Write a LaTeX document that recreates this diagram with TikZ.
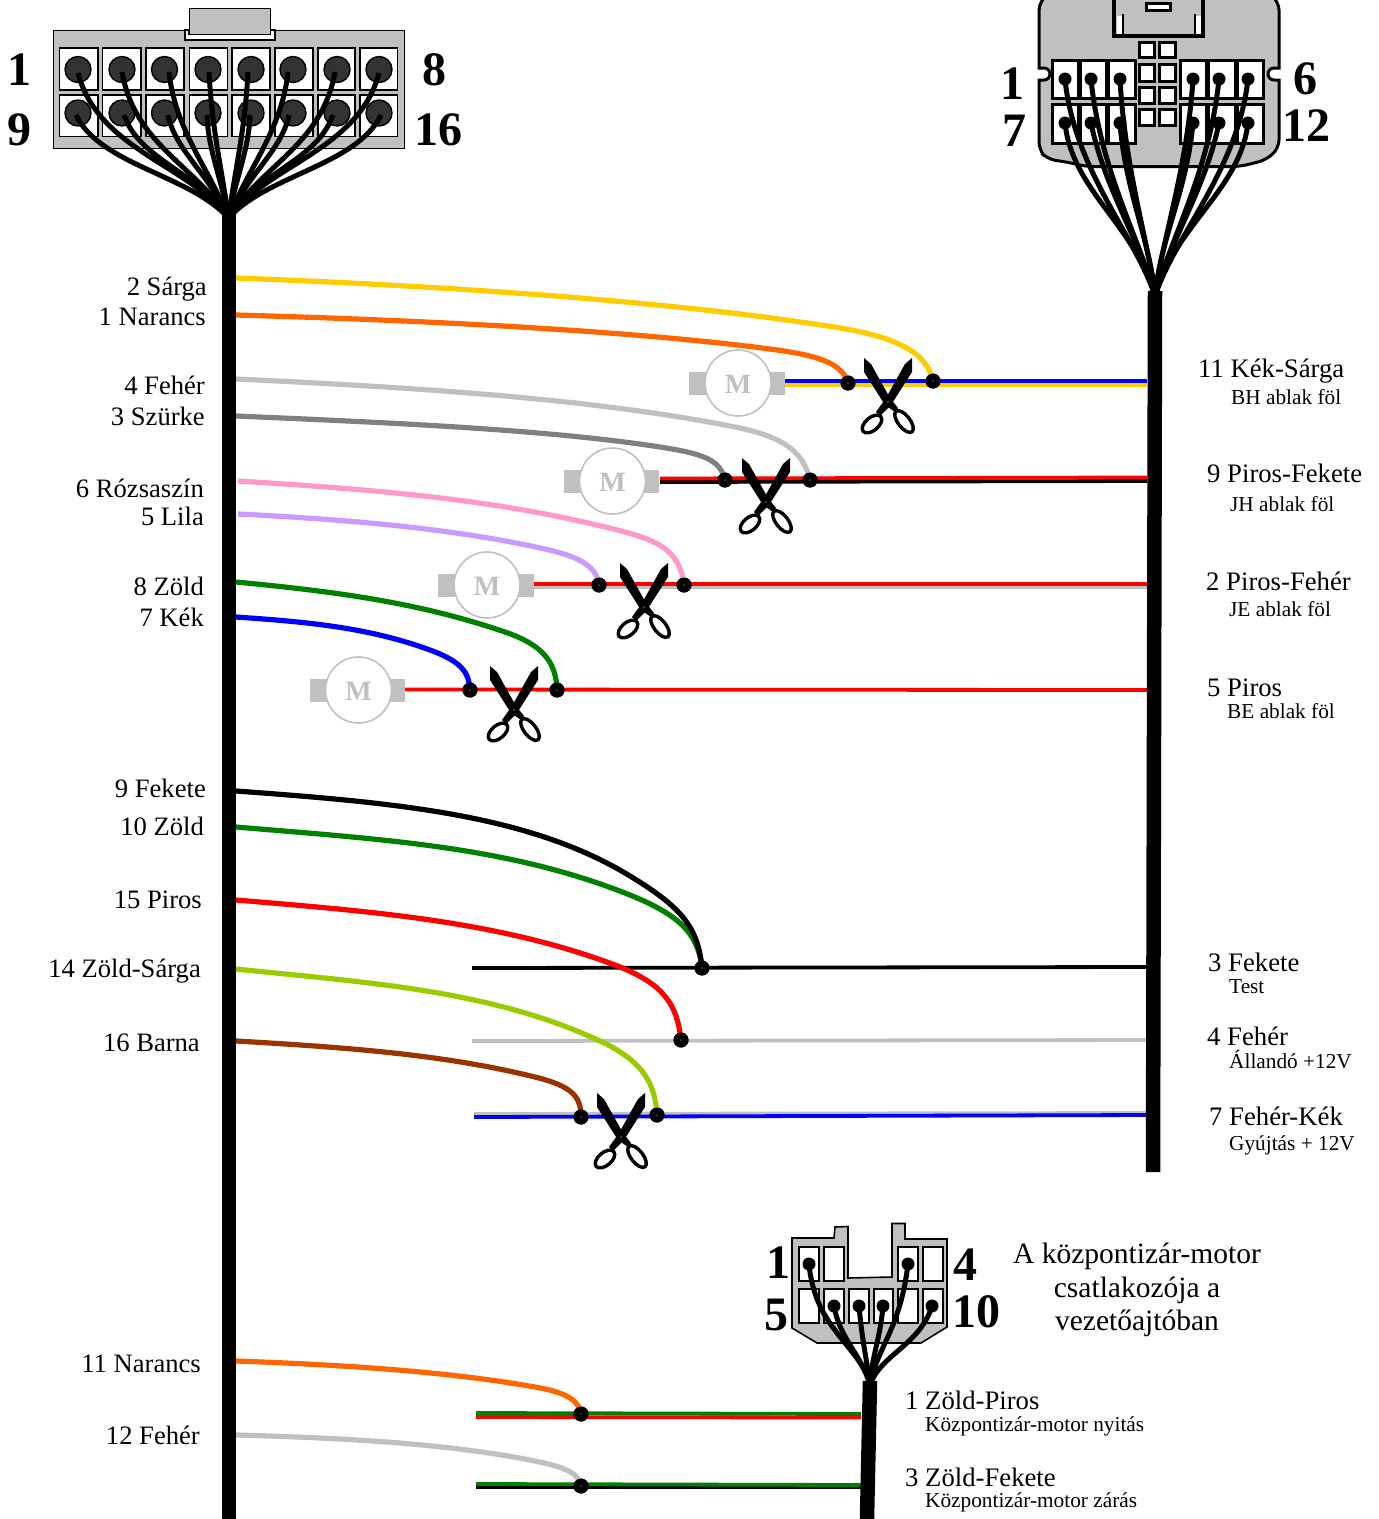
\documentclass[tikz,border=0pt]{standalone}
\usepackage{fontspec}
\setmainfont{Liberation Serif}
\definecolor{cgray}{HTML}{C0C0C0}
\definecolor{cyel}{HTML}{FFCC00}
\definecolor{corg}{HTML}{FF6600}
\definecolor{cgr}{HTML}{808080}
\definecolor{cpink}{HTML}{FF99CC}
\definecolor{cpur}{HTML}{CC99FF}
\definecolor{cgrn}{HTML}{008000}
\definecolor{cyg}{HTML}{99CC00}
\definecolor{cbrn}{HTML}{993300}
\definecolor{cblue}{HTML}{0000FF}
\definecolor{cred}{HTML}{FF0000}
\tikzset{
  lbl/.style={font=\fontsize{26.6}{28}\selectfont,inner sep=0pt,anchor=east,text height=16pt,text depth=0pt},
  rlbl/.style={font=\fontsize{26.7}{28}\selectfont,inner sep=0pt,anchor=west,text height=16pt,text depth=0pt},
  sublbl/.style={font=\fontsize{21.3}{23}\selectfont,inner sep=0pt,anchor=west,text height=13.5pt,text depth=0pt},
  bignum/.style={font=\fontsize{48}{50}\selectfont\bfseries,inner sep=0pt},
  wire/.style={line width=5.2pt},
  hline/.style={line width=3.8pt},
  fan/.style={line width=5pt,black},
  trunk/.style={line width=14.5pt,black},
  junction/.style={circle,fill=black,inner sep=0pt,minimum size=15pt},
  pinA/.style={circle,draw=black,line width=1.4pt,fill=black!80,inner sep=0pt,minimum size=26pt},
  pinB/.style={circle,fill=black,inner sep=0pt,minimum size=13pt},
  cell/.style={draw=black,line width=3pt,fill=white},
  scissors/.pic={
    \fill[black] (-24,-44) -- (-17,-38) -- (2,-4) -- (10,6) -- (7,10) -- (-3,3) -- (-24,-30) -- cycle;
    \fill[black] (24,-44) -- (17,-38) -- (-2,-4) -- (-12,10) -- (-8,14) -- (3,3) -- (24,-30) -- cycle;
    \draw[black,line width=3.4pt] (16,19.5) ellipse [x radius=13,y radius=6,rotate=-52];
    \draw[black,line width=3.4pt] (-16,22) ellipse [x radius=11.5,y radius=6.5,rotate=40];
    \fill[white] (0,0) circle (0.7);
  },
  motor/.pic={
    \fill[cgray] (-49,-11.5) rectangle (-30,11.5);
    \fill[cgray] (30,-11.5) rectangle (46.5,11.5);
    \draw[cgray,line width=1.6pt,fill=white] (0,0) circle (33);
    \node[text=cgray,font=\fontsize{28}{30}\selectfont\bfseries,inner sep=0pt] (-m) at (0,1) {M};
  }
}
\begin{document}
\begin{tikzpicture}[x=1pt,y=-1pt]
\useasboundingbox (0,0) rectangle (1379,1519);
\fill[white] (0,0) rectangle (1379,1519);

% ---------- named points
\coordinate (fanA) at (228.5,218);
\coordinate (trunkAtop) at (229,214);
\coordinate (trunkAend) at (229,1519);
\coordinate (fanB) at (1155,296);
\coordinate (trunkBtop) at (1155,291);
\coordinate (trunkBend) at (1153,1172);
\coordinate (fanC) at (870,1385);
\coordinate (trunkCtop) at (870,1381);
\coordinate (trunkCend) at (867,1519);

% ---------- horizontal wire bundles
\draw[hline,cyel] (784,385) -- (1147,385);
\draw[hline,cblue] (784,381) -- (1147,381);
\draw[hline,black] (660,482) -- (1147,481);
\draw[hline,cred] (660,478.5) -- (1147,477.5);
\draw[hline,cgray] (534,587) -- (1147,587);
\draw[hline,cred] (534,584) -- (1147,584);
\draw[hline,cred] (405,689.5) -- (1147,690);
\draw[hline,black] (472,968) -- (1147,967);
\draw[hline,cgray] (472,1041) -- (1147,1040);
\draw[hline,cgray] (474,1114) -- (1147,1113);
\draw[hline,cblue] (474,1117) -- (1147,1115);
\draw[hline,cred] (476,1417) -- (861,1417.5);
\draw[hline,cgrn] (476,1413) -- (861,1414);
\draw[hline,black] (476,1487) -- (861,1487);
\draw[hline,cgrn] (476,1484) -- (861,1485);

% ---------- junctions
\node[junction] (j1) at (848,383) {};
\node[junction] (j2) at (933,381) {};
\node[junction] (j3) at (725,480) {};
\node[junction] (j4) at (810,480) {};
\node[junction] (j5) at (599,585) {};
\node[junction] (j6) at (684,585) {};
\node[junction] (j7) at (470,690) {};
\node[junction] (j8) at (557,690) {};
\node[junction] (j9) at (702,968) {};
\node[junction] (j10) at (681,1040) {};
\node[junction] (j11) at (581,1117) {};
\node[junction] (j12) at (657,1115) {};
\node[junction] (j13) at (581,1414) {};
\node[junction] (j14) at (581,1486) {};

% ---------- coloured wires
\draw[wire,cyel] (236,278) .. controls (450,286) and (680,302) .. (840,328) .. controls (895,337) and (927,352) .. (j2.center);
\draw[wire,corg] (236,315) .. controls (450,321) and (640,332) .. (770,349) .. controls (815,355) and (842,362) .. (j1.center);
\draw[wire,cgray] (236,379) .. controls (430,388) and (600,400) .. (735,427) .. controls (785,437) and (803,452) .. (j4.center);
\draw[wire,cgr] (236,416) .. controls (400,423) and (550,430) .. (660,447) .. controls (705,454) and (720,460) .. (j3.center);
\draw[wire,cpink] (238,481) .. controls (400,491) and (510,502) .. (625,532) .. controls (665,542.5) and (680,555) .. (j6.center);
\draw[wire,cpur] (238,514) .. controls (360,520) and (460,530) .. (545,549) .. controls (583,557.5) and (597,568) .. (j5.center);
\draw[wire,cgrn] (236,582) .. controls (340,592) and (420,603) .. (505,632) .. controls (543,645) and (556,662) .. (j8.center);
\draw[wire,cblue] (236,617) .. controls (310,622) and (370,628) .. (430,650) .. controls (461,661.4) and (469,672) .. (j7.center);
\draw[wire,cgrn] (236,827) .. controls (390,840) and (510,847) .. (630,895) .. controls (682,916) and (698,935) .. (j9.center);
\draw[wire,black] (236,791) .. controls (400,803) and (530,815) .. (630,876) .. controls (683,908) and (698,928) .. (j9.center);
\draw[wire,cred] (236,900) .. controls (380,912) and (500,922) .. (615,965) .. controls (665,984) and (677,1005) .. (j10.center);
\draw[wire,cyg] (236,969) .. controls (370,983) and (490,990) .. (600,1041) .. controls (645,1062) and (655,1085) .. (j12.center);
\draw[wire,cbrn] (236,1041) .. controls (360,1048) and (450,1056) .. (535,1077) .. controls (573,1086.4) and (581,1097) .. (j11.center);
\draw[wire,corg] (236,1361) .. controls (350,1365) and (450,1372) .. (535,1387) .. controls (570,1393) and (579,1402) .. (j13.center);
\draw[wire,cgray] (236,1435) .. controls (350,1438) and (450,1444) .. (535,1461) .. controls (570,1468) and (579,1475) .. (j14.center);
\foreach \j in {j1,j2,j3,j4,j5,j6,j7,j8,j9,j10,j11,j12,j13,j14}{\fill[black] (\j) circle (7.5);\fill[black!70] (\j) circle (1);}

% ---------- motors and scissors
\pic (mot1) at (738,383) {motor};
\pic (mot2) at (612.5,481) {motor};
\pic (mot3) at (487,585) {motor};
\pic (mot4) at (358.5,690) {motor};
\pic (sc1) at (888,402) {scissors};
\pic (sc2) at (766,502) {scissors};
\pic (sc3) at (644,607) {scissors};
\pic (sc4) at (514,710) {scissors};
\pic (sc5) at (621,1137) {scissors};

% ---------- connector A (top left)
\draw[black,line width=1pt,fill=cgray] (53,30) -- (185,30) -- (185,40) -- (275,40) -- (275,30) -- (404,30) -- (404,148) -- (53,148) -- cycle;
\draw[black,line width=1.2pt,fill=white] (185,30) -- (185,40) -- (275,40) -- (275,30) -- (270,30) -- (270,34) -- (189,34) -- (189,30) -- cycle;
\draw[black,line width=1pt,fill=cgray] (189,8.5) rectangle (270,34);
\foreach \xa/\xb in {59.5/98,102.5/141,146/184,189.5/227.5,232/270,275/313,318/355,360/397.5}{
  \draw[black,line width=1.8pt,fill=white] (\xa,48) rectangle (\xb,90);
  \draw[black,line width=1.8pt,fill=white] (\xa,95) rectangle (\xb,136.5);
}
\foreach \n/\x in {1/78,2/122,3/164.5,4/208,5/251,6/293,7/337,8/379}{
  \node[pinA] (pa\n) at (\x,69.5) {};
  \node[pinA] (pb\n) at (\x,113) {};
}
\foreach \mx in {0,1}{
\begin{scope}[shift={(\mx*457,0)},xscale={1-2*\mx}]
\draw[fan] (78,73) .. controls (98,150) and (190,165) .. (fanA);
\draw[fan] (122,72) .. controls (135,145) and (195,165) .. (fanA);
\draw[fan] (169,72) .. controls (175,130) and (210,170) .. (fanA);
\draw[fan] (209,72) .. controls (212,130) and (222,170) .. (fanA);
\draw[fan] (76,115) .. controls (100,165) and (190,175) .. (fanA);
\draw[fan] (124,115) .. controls (140,160) and (195,170) .. (fanA);
\draw[fan] (168,115) .. controls (175,150) and (210,175) .. (fanA);
\draw[fan] (207,115) .. controls (208,150) and (222,180) .. (fanA);
\end{scope}}
\draw[trunk] (trunkAtop) -- (trunkAend);

% ---------- connector B (top right)
\draw[black,line width=3pt,fill=cgray]
  (1046,-6) [rounded corners=4pt] -- (1039,6) [sharp corners] -- (1039,68) -- (1044,68) arc [start angle=-90,end angle=90,radius=6] -- (1039,80)
  [rounded corners=8pt] -- (1039,150) -- (1047,159) -- (1072,163) -- (1085,166.5) -- (1240,166.5) -- (1266,160) -- (1279,148) [sharp corners]
  -- (1279,80) -- (1274,80) arc [start angle=90,end angle=270,radius=6] -- (1279,68) [rounded corners=4pt] -- (1279,6) -- (1272,-6) -- cycle;
\draw[black,line width=3.5pt,fill=cgray] (1114,-5) -- (1114,36) -- (1203,36) -- (1203,-5);
\fill[white] (1117,16) rectangle (1122,34);
\fill[white] (1196,16) rectangle (1201,34);
\draw[black,line width=1.8pt] (1123,14) -- (1123,35) (1195,14) -- (1195,35);
\draw[black,line width=2.4pt,fill=white] (1146.5,3.5) rectangle (1170.5,10.5);
\foreach \xa/\xb in {1139.5/1154.5,1159.5/1175.5}{
  \foreach \ya/\yb in {42.5/57.5,64.5/81.5,87.5/103.5,109.5/125.5}{
    \draw[cell] (\xa,\ya) rectangle (\xb,\yb);
  }
}
\foreach \ya/\yb in {60/98,104.5/143}{
  \foreach \xa/\xb in {1052.5/1078,1080/1106,1108/1135,1180.5/1206,1208.5/1235,1237/1263}{
    \draw[cell] (\xa,\ya) rectangle (\xb,\yb);
  }
}
\foreach \n/\x in {1/1065,2/1091,3/1120,4/1193,5/1219,6/1248}{
  \node[pinB] (qa\n) at (\x,79) {};
  \node[pinB] (qb\n) at (\x,123) {};
}
\draw[fan] (qa1.center) .. controls (1074,170) and (1135,235) .. (fanB);
\draw[fan] (qb1.center) .. controls (1072,190) and (1135,225) .. (fanB);
\draw[fan] (qa2.center) .. controls (1100,170) and (1140,240) .. (fanB);
\draw[fan] (qb2.center) .. controls (1105,190) and (1140,240) .. (fanB);
\draw[fan] (qa3.center) .. controls (1125,170) and (1148,240) .. (fanB);
\draw[fan] (qb3.center) .. controls (1125,190) and (1150,240) .. (fanB);
\draw[fan] (qa4.center) .. controls (1187,170) and (1162,240) .. (fanB);
\draw[fan] (qb4.center) .. controls (1187,190) and (1160,240) .. (fanB);
\draw[fan] (qa5.center) .. controls (1210,170) and (1170,240) .. (fanB);
\draw[fan] (qb5.center) .. controls (1205,190) and (1170,240) .. (fanB);
\draw[fan] (qa6.center) .. controls (1238,170) and (1175,235) .. (fanB);
\draw[fan] (qb6.center) .. controls (1240,190) and (1175,225) .. (fanB);
\draw[trunk] (trunkBtop) -- (trunkBend);

% ---------- connector C (bottom)
\draw[black,line width=1.6pt,fill=cgray] (792,1238) -- (834,1238) -- (835,1227) -- (848,1226.5) -- (848,1278) -- (892,1277) -- (892,1223.5) -- (905,1223.5) -- (905,1239) -- (947,1239) -- (947,1327) -- (921,1343) -- (817,1343) -- (792,1328) -- cycle;
\foreach \xa/\xb in {799/819,824/844,898/918,923/943}{\draw[black,line width=1.8pt,fill=white] (\xa,1247) rectangle (\xb,1281);}
\foreach \xa/\xb in {799/819,824/844,849/869,874/893,898/918,923/943}{\draw[black,line width=1.8pt,fill=white] (\xa,1289) rectangle (\xb,1323);}
\node[pinB] (r1) at (809,1264) {};
\node[pinB] (r2) at (908,1264) {};
\node[pinB] (r3) at (834,1306) {};
\node[pinB] (r4) at (859,1306) {};
\node[pinB] (r5) at (883,1306) {};
\node[pinB] (r6) at (932,1306) {};
\draw[fan] (r1.center) .. controls (815,1330) and (860,1345) .. (fanC);
\draw[fan] (r2.center) .. controls (900,1330) and (878,1345) .. (fanC);
\draw[fan] (r3.center) .. controls (840,1340) and (862,1355) .. (fanC);
\draw[fan] (r4.center) .. controls (862,1340) and (866,1355) .. (fanC);
\draw[fan] (r5.center) .. controls (880,1340) and (872,1355) .. (fanC);
\draw[fan] (r6.center) .. controls (920,1345) and (880,1355) .. (fanC);
\draw[trunk] (trunkCtop) -- (trunkCend);

% ---------- big numbers
\node[bignum] (n1) at (19,70) {1};
\node[bignum] (n2) at (19,130) {9};
\node[bignum] (n3) at (434,70) {8};
\node[bignum] (n4) at (438,130) {16};
\node[bignum] (n5) at (1012.5,84) {1};
\node[bignum] (n6) at (1014,131) {7};
\node[bignum] (n7) at (1305,79) {6};
\node[bignum] (n8) at (1306,126) {12};
\node[bignum] (n9) at (778,1263) {1};
\node[bignum] (n10) at (776,1315) {5};
\node[bignum] (n11) at (965,1265) {4};
\node[bignum] (n12) at (976,1312) {10};

% ---------- left labels
\node[lbl] (a1) at (207,287) {2 Sárga};
\node[lbl] (a2) at (206,317) {1 Narancs};
\node[lbl] (a3) at (205,386) {4 Fehér};
\node[lbl] (a4) at (205,417) {3 Szürke};
\node[lbl] (a5) at (204,489) {6 Rózsaszín};
\node[lbl] (a6) at (204,517) {5 Lila};
\node[lbl] (a7) at (204,587) {8 Zöld};
\node[lbl] (a8) at (204,618) {7 Kék};
\node[lbl] (a9) at (206,789) {9 Fekete};
\node[lbl] (a10) at (204,827) {10 Zöld};
\node[lbl] (a11) at (202,900) {15 Piros};
\node[lbl] (a12) at (201,969) {14 Zöld-Sárga};
\node[lbl] (a13) at (200,1043) {16 Barna};
\node[lbl] (a14) at (201,1364) {11 Narancs};
\node[lbl] (a15) at (200,1436) {12 Fehér};

% ---------- right labels
\node[rlbl] (b1) at (1198,369) {11 Kék-Sárga};
\node[sublbl] (b1s) at (1231,398) {BH ablak föl};
\node[rlbl] (b2) at (1207,474) {9 Piros-Fekete};
\node[sublbl] (b2s) at (1230,505) {JH ablak föl};
\node[rlbl] (b3) at (1206,582) {2 Piros-Fehér};
\node[sublbl] (b3s) at (1229,610) {JE ablak föl};
\node[rlbl] (b4) at (1207,688) {5 Piros};
\node[sublbl] (b4s) at (1227,712) {BE ablak föl};
\node[rlbl] (b5) at (1208,963) {3 Fekete};
\node[sublbl] (b5s) at (1229,987) {Test};
\node[rlbl] (b6) at (1207,1037) {4 Fehér};
\node[sublbl] (b6s) at (1229,1062) {Állandó +12V};
\node[rlbl] (b7) at (1209,1117) {7 Fehér-Kék};
\node[sublbl] (b7s) at (1229,1144) {Gyújtás + 12V};
\node[rlbl] (b8) at (905,1401) {1 Zöld-Piros};
\node[sublbl] (b8s) at (925,1425) {Központizár-motor nyitás};
\node[rlbl] (b9) at (905,1478) {3 Zöld-Fekete};
\node[sublbl] (b9s) at (925,1501) {Központizár-motor zárás};

% ---------- caption
\node[font=\fontsize{29.5}{33.5}\selectfont,inner sep=0pt,align=center] (cap) at (1137,1290) {A központizár-motor\\csatlakozója a\\vezetőajtóban};
\end{tikzpicture}
\end{document}
